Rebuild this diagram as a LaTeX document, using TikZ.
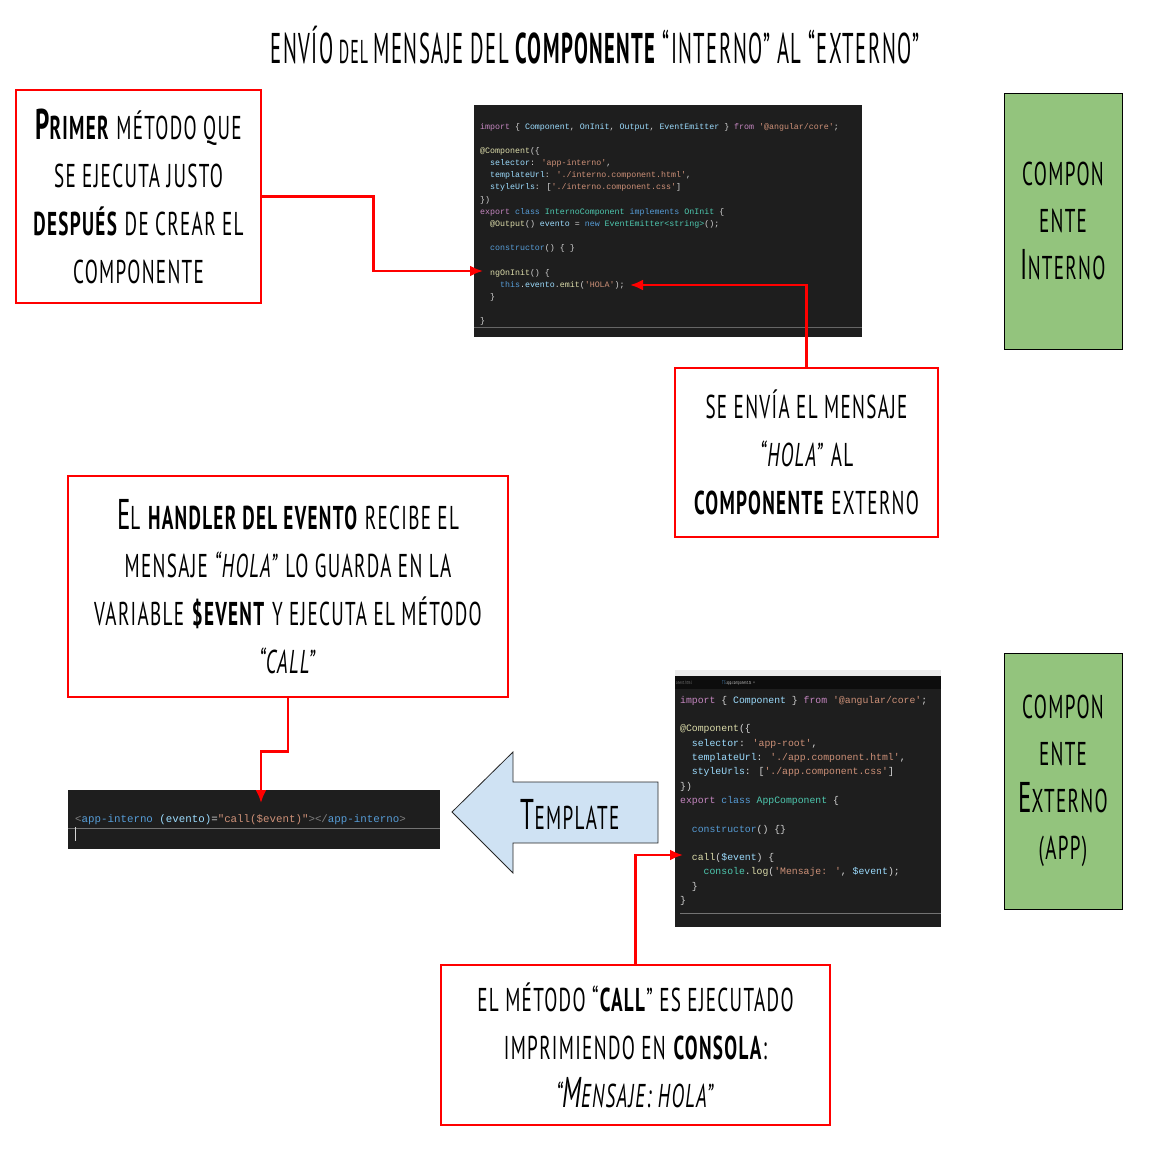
\documentclass[tikz,border=0pt]{standalone}
\usepackage{fontspec}
\setmainfont{PT Sans}[FakeStretch=0.58, LetterSpace=4]
\newfontfamily\codefont{Liberation Mono}
\usetikzlibrary{arrows.meta}
\definecolor{boxred}{HTML}{FF0000}
\definecolor{compgreen}{HTML}{93C47D}
\definecolor{tplblue}{HTML}{CFE2F3}
\definecolor{codebg}{HTML}{1E1E1E}
\definecolor{ckw}{HTML}{C586C0}
\definecolor{cbl}{HTML}{569CD6}
\definecolor{clb}{HTML}{9CDCFE}
\definecolor{cstr}{HTML}{CE9178}
\definecolor{cty}{HTML}{4EC9B0}
\definecolor{cfn}{HTML}{DCDCAA}
\definecolor{cwh}{HTML}{D4D4D4}
\definecolor{cgr}{HTML}{808080}
\newcommand\K[1]{{\fontsize{43}{48}\selectfont #1}}
\newcommand\sq{\textquotesingle}
\newcommand\ckw[1]{\textcolor{ckw}{#1}}
\newcommand\cbl[1]{\textcolor{cbl}{#1}}
\newcommand\clb[1]{\textcolor{clb}{#1}}
\newcommand\cst[1]{\textcolor{cstr}{#1}}
\newcommand\cty[1]{\textcolor{cty}{#1}}
\newcommand\cfn[1]{\textcolor{cfn}{#1}}
\newcommand\cgr[1]{\textcolor{cgr}{#1}}
\tikzset{
  redbox/.style={draw=boxred, line width=2.5pt, fill=white, align=center,
    font=\fontsize{33}{48}\selectfont, inner sep=0pt},
  greenbox/.style={draw=black, line width=0.8pt, fill=compgreen, align=center,
    font=\fontsize{33}{47}\selectfont, minimum width=118pt, minimum height=256pt, inner sep=0pt},
  redarrow/.style={draw=boxred, line width=2.5pt, -{Latex[length=13pt,width=11pt]}},
  codeblock/.style={anchor=north west, align=left, inner sep=0pt, text=cwh},
}
\begin{document}
\begin{tikzpicture}[x=1pt,y=-1pt]
\useasboundingbox (0,0) rectangle (1151,1155);

% title
\node[font=\fontsize{33}{40}\selectfont] (title) at (595,45)
  {\scalebox{0.83}[1]{\K{ENVÍO} DEL \K{MENSAJE DEL} \K{\textbf{COMPONENTE}} \K{“INTERNO” AL “EXTERNO”}}};

% code screenshot 1
\fill[codebg] (474,105) rectangle (862,337);
\draw[black!60, line width=0.5pt] (474,327) -- (862,327);
\node[codeblock, font=\codefont\fontsize{8.3}{12.15}\selectfont] (code1) at (480,123) {%
\ckw{import} \{ \clb{Component}, \clb{OnInit}, \clb{Output}, \clb{EventEmitter} \} \ckw{from} \cst{\sq @angular/core\sq};\\
\mbox{}\\
\cfn{@Component}(\{\\
~~\clb{selector}: \cst{\sq app-interno\sq},\\
~~\clb{templateUrl}: \cst{\sq ./interno.component.html\sq},\\
~~\clb{styleUrls}: [\cst{\sq ./interno.component.css\sq}]\\
\})\\
\ckw{export} \cbl{class} \cty{InternoComponent} \cbl{implements} \cty{OnInit} \{\\
~~\cfn{@Output}() \clb{evento} = \cbl{new} \cty{EventEmitter<string>}();\\
\mbox{}\\
~~\cbl{constructor}() \{ \}\\
\mbox{}\\
~~\cfn{ngOnInit}() \{\\
~~~~\cbl{this}.\clb{evento}.\cfn{emit}(\cst{\sq HOLA\sq});\\
~~\}\\
\mbox{}\\
\}};
\coordinate (ngon) at (483,271);
\coordinate (emitcall) at (630,285);

% green boxes
\node[greenbox] (interno) at (1063,221) {COMPON\\ENTE\\\K{I}NTERNO};
\node[greenbox] (externo) at (1063,781) {COMPON\\ENTE\\\K{E}XTERNO\\(APP)};

% box 1
\node[redbox, minimum width=245pt, minimum height=213pt] (b1) at (138.5,196.5)
  {\textbf{\K{P}RIMER} MÉTODO QUE\\SE EJECUTA JUSTO\\\textbf{DESPUÉS} DE CREAR EL\\COMPONENTE};

% box 2
\node[redbox, minimum width=263pt, minimum height=169pt] (b2) at (806.5,452.5)
  {SE ENVÍA EL MENSAJE\\\textit{“HOLA”} AL\\\textbf{COMPONENTE} EXTERNO};

% box 3
\node[redbox, minimum width=440pt, minimum height=221pt] (b3) at (288,586.5)
  {\K{E}L \textbf{HANDLER DEL EVENTO} RECIBE EL\\MENSAJE \textit{“HOLA”} LO GUARDA EN LA\\VARIABLE \textbf{\$EVENT} Y EJECUTA EL MÉTODO\\\textit{“CALL”}};

% code screenshot 3
\fill[codebg] (68,790) rectangle (440,849);
\draw[black!55, line width=0.5pt] (68,828) -- (440,828);
\node[anchor=base west, inner sep=0pt, text=cwh, font=\codefont\fontsize{10.8}{13}\selectfont] (code3) at (75,822)
  {\cgr{<}\cbl{app-interno} \clb{(evento)}=\cst{"call(\$event)"}\cgr{></}\cbl{app-interno}\cgr{>}};
\draw[cwh, line width=0.8pt] (75.5,827) -- (75.5,841);
\coordinate (tplcall) at (261,803);

% template arrow
\draw[fill=tplblue, draw=black!85, line width=0.8pt]
  (452,812) -- (513,752) -- (513,782) -- (658,782) -- (658,843) -- (513,843) -- (513,873) -- cycle;
\node[font=\fontsize{33}{40}\selectfont, inner sep=0pt] (tpl) at (570,814) {\K{T}EMPLATE};

% code screenshot 2
\fill[black!8] (675,670) rectangle (941,676);
\fill[codebg] (675,676) rectangle (941,927);
\fill[black!95!white] (675,676) rectangle (941,689);
\node[anchor=west, inner sep=0pt, text=cgr, font=\fontsize{5}{6}\selectfont] (tab1) at (676,683) {onent.html};
\node[anchor=west, inner sep=0pt, text=cwh, font=\fontsize{5}{6}\selectfont] (tab2) at (722,683) {\textcolor{cbl}{TS} app.component.ts \ ×};
\draw[black!55, line width=0.5pt] (680,913) -- (941,913);
\node[codeblock, font=\codefont\fontsize{9.8}{14.3}\selectfont] (code2) at (680,696) {%
\ckw{import} \{ \clb{Component} \} \ckw{from} \cst{\sq @angular/core\sq};\\
\mbox{}\\
\cfn{@Component}(\{\\
~~\clb{selector}: \cst{\sq app-root\sq},\\
~~\clb{templateUrl}: \cst{\sq ./app.component.html\sq},\\
~~\clb{styleUrls}: [\cst{\sq ./app.component.css\sq}]\\
\})\\
\ckw{export} \cbl{class} \cty{AppComponent} \{\\
\mbox{}\\
~~\cbl{constructor}() \{\}\\
\mbox{}\\
~~\cfn{call}(\clb{\$event}) \{\\
~~~~\cty{console}.\cfn{log}(\cst{\sq Mensaje: \sq}, \clb{\$event});\\
~~\}\\
\}};
\coordinate (callfn) at (683,855);

% box 4
\node[redbox, minimum width=389pt, minimum height=160pt] (b4) at (635.5,1045)
  {EL MÉTODO “\textbf{CALL}” ES EJECUTADO\\IMPRIMIENDO EN \textbf{CONSOLA}:\\\textit{“\K{M}ENSAJE: HOLA”}};

% connectors
\draw[redarrow] (b1.east) -- ++(111,0) |- (ngon);
\draw[redarrow] (b2.north) |- (emitcall);
\draw[redarrow] (b3.south) -- ++(0,53) -| (tplcall);
\draw[redarrow] (b4.north) |- (callfn);
\end{tikzpicture}
\end{document}
